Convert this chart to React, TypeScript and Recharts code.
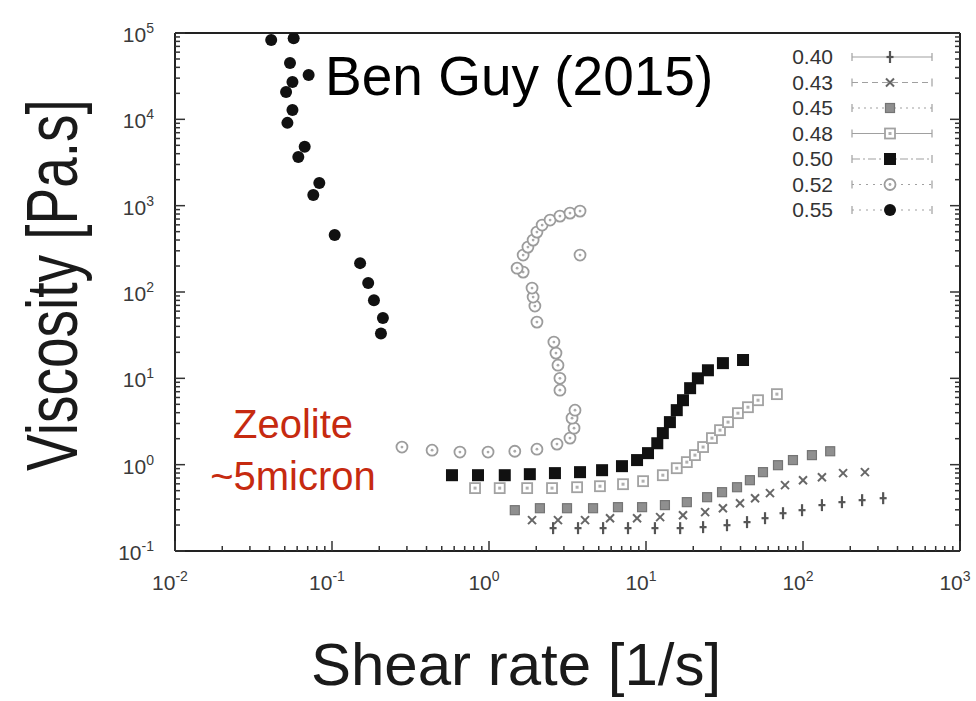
import {
  Customized,
  Legend,
  Scatter,
  ScatterChart,
  XAxis,
  YAxis,
} from 'recharts'

type Pt = { x: number; y: number }

// volume fractions, as in the legend
const fractions = ['0.40', '0.43', '0.45', '0.48', '0.50', '0.52', '0.55']

const phi040: Pt[] = [
  { x: 2.56, y: 0.184 }, { x: 3.69, y: 0.184 }, { x: 5.33, y: 0.184 }, { x: 7.68, y: 0.184 },
  { x: 11.4, y: 0.184 }, { x: 16.5, y: 0.184 }, { x: 23.1, y: 0.189 }, { x: 32.8, y: 0.199 },
  { x: 44.0, y: 0.216 }, { x: 57.3, y: 0.24 }, { x: 74.6, y: 0.274 }, { x: 98.6, y: 0.297 },
  { x: 132, y: 0.34 }, { x: 177, y: 0.368 }, { x: 238, y: 0.388 }, { x: 324, y: 0.409 },
]

const phi043: Pt[] = [
  { x: 1.88, y: 0.228 }, { x: 2.75, y: 0.228 }, { x: 4.09, y: 0.228 }, { x: 5.9, y: 0.24 },
  { x: 8.77, y: 0.24 }, { x: 12.3, y: 0.247 }, { x: 17.2, y: 0.26 }, { x: 23.8, y: 0.282 },
  { x: 30.9, y: 0.313 }, { x: 39.7, y: 0.358 }, { x: 49.5, y: 0.409 }, { x: 61.6, y: 0.468 },
  { x: 76.8, y: 0.579 }, { x: 100, y: 0.661 }, { x: 132, y: 0.716 }, { x: 180, y: 0.798 },
  { x: 248, y: 0.819 },
]

const phi045: Pt[] = [
  { x: 1.46, y: 0.297 }, { x: 2.11, y: 0.313 }, { x: 3.14, y: 0.313 }, { x: 4.6, y: 0.313 },
  { x: 6.63, y: 0.322 }, { x: 9.44, y: 0.322 }, { x: 13.2, y: 0.34 }, { x: 18.2, y: 0.368 },
  { x: 24.5, y: 0.42 }, { x: 30.5, y: 0.48 }, { x: 38.0, y: 0.548 }, { x: 45.9, y: 0.661 },
  { x: 55.6, y: 0.819 }, { x: 69.3, y: 0.986 }, { x: 86.3, y: 1.13 }, { x: 114, y: 1.29 },
  { x: 149, y: 1.43 },
]

const phi048: Pt[] = [
  { x: 0.815, y: 0.535 }, { x: 1.17, y: 0.535 }, { x: 1.75, y: 0.535 }, { x: 2.52, y: 0.535 },
  { x: 3.64, y: 0.548 }, { x: 5.09, y: 0.563 }, { x: 7.14, y: 0.594 }, { x: 9.58, y: 0.644 },
  { x: 12.8, y: 0.755 }, { x: 15.7, y: 0.91 }, { x: 18.2, y: 1.07 }, { x: 20.5, y: 1.29 },
  { x: 23.1, y: 1.6 }, { x: 26.3, y: 2.03 }, { x: 29.6, y: 2.51 }, { x: 33.3, y: 3.11 },
  { x: 38.5, y: 3.95 }, { x: 44.6, y: 4.63 }, { x: 51.7, y: 5.58 }, { x: 68.2, y: 6.56 },
]

const phi050: Pt[] = [
  { x: 0.581, y: 0.755 }, { x: 0.851, y: 0.755 }, { x: 1.26, y: 0.755 }, { x: 1.82, y: 0.776 },
  { x: 2.63, y: 0.798 }, { x: 3.8, y: 0.819 }, { x: 5.25, y: 0.863 }, { x: 7.03, y: 0.961 },
  { x: 8.77, y: 1.13 }, { x: 10.3, y: 1.36 }, { x: 11.8, y: 1.77 }, { x: 12.8, y: 2.32 },
  { x: 14.2, y: 3.11 }, { x: 15.7, y: 4.28 }, { x: 17.2, y: 5.58 }, { x: 19.1, y: 7.69 },
  { x: 21.4, y: 10.0 }, { x: 24.8, y: 12.4 }, { x: 30.9, y: 15.0 }, { x: 41.5, y: 16.3 },
]

const phi052: Pt[] = [
  { x: 0.279, y: 1.6 }, { x: 0.434, y: 1.47 }, { x: 0.653, y: 1.4 }, { x: 0.986, y: 1.4 },
  { x: 1.46, y: 1.43 }, { x: 2.02, y: 1.51 }, { x: 2.71, y: 1.73 }, { x: 3.28, y: 2.03 },
  { x: 3.48, y: 2.65 }, { x: 3.38, y: 3.46 }, { x: 3.53, y: 4.28 }, { x: 2.83, y: 7.29 },
  { x: 2.83, y: 10.0 }, { x: 2.75, y: 14.2 }, { x: 2.67, y: 19.6 }, { x: 2.59, y: 26.3 },
  { x: 2.02, y: 44.8 }, { x: 1.96, y: 68.7 }, { x: 1.91, y: 87.3 }, { x: 1.88, y: 111 },
  { x: 1.65, y: 170 }, { x: 1.51, y: 189 }, { x: 1.65, y: 268 }, { x: 1.77, y: 331 },
  { x: 1.91, y: 399 }, { x: 2.02, y: 494 }, { x: 2.18, y: 596 }, { x: 2.45, y: 681 },
  { x: 2.83, y: 757 }, { x: 3.28, y: 820 }, { x: 3.8, y: 865 }, { x: 3.8, y: 268 },
]

const phi055: Pt[] = [
  { x: 0.041, y: 83000 }, { x: 0.057, y: 87000 }, { x: 0.054, y: 45000 }, { x: 0.071, y: 32600 },
  { x: 0.056, y: 27000 }, { x: 0.051, y: 20700 }, { x: 0.056, y: 12800 }, { x: 0.052, y: 9100 },
  { x: 0.067, y: 4800 }, { x: 0.061, y: 3660 }, { x: 0.083, y: 1830 }, { x: 0.076, y: 1330 },
  { x: 0.104, y: 456 }, { x: 0.151, y: 216 }, { x: 0.17, y: 127 }, { x: 0.185, y: 80 },
  { x: 0.211, y: 50 }, { x: 0.205, y: 33 },
]

const xDecades = [-2, -1, 0, 1, 2, 3]
const yDecades = [-1, 0, 1, 2, 3, 4, 5]
const minorSteps = [2, 3, 4, 5, 6, 7, 8, 9]

const logTicks = (decades: number[]) => {
  const out: number[] = []
  decades.forEach((d, i) => {
    out.push(Math.pow(10, d))
    if (i < decades.length - 1) minorSteps.forEach((m) => out.push(m * Math.pow(10, d)))
  })
  return out
}
const xTicks = logTicks(xDecades)
const yTicks = logTicks(yDecades)

const FONT = '"Liberation Sans", Arial, Helvetica, sans-serif'
const AXIS = '#222'
const TICK_TEXT = '#3a3a3a'
const TICK_STROKE = '#333'

const isMajor = (v: number) => Math.abs(Math.log10(v) - Math.round(Math.log10(v))) < 1e-6
const expOf = (v: number) => String(Math.round(Math.log10(v)))
const tickLen = (v: number) => (isMajor(v) ? 10 : 5)

function Pow({ x, y, v, anchor }: { x: number; y: number; v: number; anchor: 'middle' | 'end' }) {
  return (
    <text x={x} y={y} textAnchor={anchor} fill={TICK_TEXT} fontFamily={FONT} fontSize={21}>
      <tspan>10</tspan>
      <tspan dy={-9} fontSize={14}>{expOf(v)}</tspan>
    </text>
  )
}

// ticks point into the plot on all four sides, gnuplot style
function BottomTick(props: any) {
  const { x, y, payload } = props
  return (
    <g>
      <path d={`M${x},${y}V${y - tickLen(payload.value)}`} stroke={TICK_STROKE} strokeWidth={1.5} fill="none" />
      {isMajor(payload.value) && <Pow x={x - 5} y={y + 39} v={payload.value} anchor="middle" />}
    </g>
  )
}

function TopTick(props: any) {
  const { x, y, payload } = props
  return <path d={`M${x},${y}V${y + tickLen(payload.value)}`} stroke={TICK_STROKE} strokeWidth={1.5} fill="none" />
}

function LeftTick(props: any) {
  const { x, y, payload } = props
  return (
    <g>
      <path d={`M${x},${y}H${x + tickLen(payload.value)}`} stroke={TICK_STROKE} strokeWidth={1.5} fill="none" />
      {isMajor(payload.value) && <Pow x={x - 21} y={y + 9} v={payload.value} anchor="end" />}
    </g>
  )
}

function RightTick(props: any) {
  const { x, y, payload } = props
  return <path d={`M${x},${y}H${x - tickLen(payload.value)}`} stroke={TICK_STROKE} strokeWidth={1.5} fill="none" />
}

type Kind = 'plus' | 'cross' | 'graySquare' | 'openSquare' | 'blackSquare' | 'openCircle' | 'blackCircle'

function Mark({ kind, cx, cy }: { kind: Kind; cx: number; cy: number }) {
  switch (kind) {
    case 'plus':
      return (
        <g stroke="#555" strokeWidth={2.2}>
          <line x1={cx} x2={cx} y1={cy - 6} y2={cy + 6} />
          <line x1={cx - 3.5} x2={cx + 3.5} y1={cy} y2={cy} />
        </g>
      )
    case 'cross':
      return (
        <g stroke="#666" strokeWidth={2}>
          <line x1={cx - 4} x2={cx + 4} y1={cy - 4} y2={cy + 4} />
          <line x1={cx - 4} x2={cx + 4} y1={cy + 4} y2={cy - 4} />
        </g>
      )
    case 'graySquare':
      return <rect x={cx - 4.5} y={cy - 4.5} width={9} height={9} fill="#8f8f8f" stroke="#747474" strokeWidth={1.2} />
    case 'openSquare':
      return (
        <g>
          <rect x={cx - 5} y={cy - 5} width={10} height={10} fill="#fff" stroke="#a2a2a2" strokeWidth={1.8} />
          <rect x={cx - 1.5} y={cy - 1.5} width={3} height={3} fill="#b0b0b0" />
        </g>
      )
    case 'blackSquare':
      return <rect x={cx - 6} y={cy - 6} width={12} height={12} fill="#111" />
    case 'openCircle':
      return (
        <g>
          <circle cx={cx} cy={cy} r={5.5} fill="#fff" stroke="#9c9c9c" strokeWidth={1.8} />
          <circle cx={cx} cy={cy} r={1.4} fill="#aaa" />
        </g>
      )
    default:
      return <circle cx={cx} cy={cy} r={6} fill="#111" />
  }
}

const kinds: Kind[] = ['plus', 'cross', 'graySquare', 'openSquare', 'blackSquare', 'openCircle', 'blackCircle']
const legendDash = ['', '6 4', '2 4', '', '8 3 2 3', '2 5', '2 5']

function LegendBox() {
  return (
    <svg width={190} height={185}>
      {fractions.map((f, i) => {
        const y = 15 + i * 25.5
        return (
          <g key={f}>
            <text x={53} y={y + 7} textAnchor="end" fontFamily={FONT} fontSize={21} fill="#333">
              {f}
            </text>
            <line x1={72} x2={152} y1={y} y2={y} stroke="#a0a0a0" strokeWidth={1.2} strokeDasharray={legendDash[i] || undefined} />
            <line x1={72} x2={72} y1={y - 4} y2={y + 4} stroke="#a0a0a0" strokeWidth={1.2} />
            <line x1={152} x2={152} y1={y - 4} y2={y + 4} stroke="#a0a0a0" strokeWidth={1.2} />
            <Mark kind={kinds[i]} cx={110} cy={y} />
          </g>
        )
      })}
    </svg>
  )
}

function Annotations() {
  return (
    <g fontFamily={FONT}>
      <text x={325} y={95} fontSize={55} fill="#000">Ben Guy (2015)</text>
      <text x={293} y={438} textAnchor="middle" fontSize={40} fill="#c62a10">Zeolite</text>
      <text x={293} y={490} textAnchor="middle" fontSize={40} fill="#c62a10">~5micron</text>
      <text x={516} y={685} textAnchor="middle" fontSize={60} fill="#1a1a1a">Shear rate [1/s]</text>
      <text transform="translate(77,285) rotate(-90) scale(1,1.3)" x={0} y={0} textAnchor="middle" fontSize={55} fill="#1a1a1a">
        Viscosity [Pa.s]
      </text>
    </g>
  )
}

const series: { data: Pt[]; kind: Kind; name: string }[] = [
  { data: phi052, kind: 'openCircle', name: '0.52' },
  { data: phi048, kind: 'openSquare', name: '0.48' },
  { data: phi045, kind: 'graySquare', name: '0.45' },
  { data: phi043, kind: 'cross', name: '0.43' },
  { data: phi040, kind: 'plus', name: '0.40' },
  { data: phi050, kind: 'blackSquare', name: '0.50' },
  { data: phi055, kind: 'blackCircle', name: '0.55' },
]

export default function App() {
  return (
    <div style={{ position: 'absolute', left: 0, top: 0, width: 976, height: 701, background: '#fff' }}>
      <ScatterChart width={976} height={701} margin={{ top: 32, right: 15, bottom: 110, left: 115 }}>
        <XAxis
          dataKey="x"
          type="number"
          scale="log"
          domain={[0.01, 1000]}
          allowDataOverflow
          ticks={xTicks}
          interval={0}
          tick={BottomTick}
          tickLine={false}
          tickSize={0}
          tickMargin={0}
          height={40}
          axisLine={{ stroke: AXIS, strokeWidth: 2 }}
        />
        <XAxis
          xAxisId="top"
          orientation="top"
          type="number"
          scale="log"
          domain={[0.01, 1000]}
          allowDataOverflow
          ticks={xTicks}
          interval={0}
          tick={TopTick}
          tickLine={false}
          tickSize={0}
          tickMargin={0}
          height={1}
          axisLine={{ stroke: AXIS, strokeWidth: 2 }}
        />
        <YAxis
          dataKey="y"
          type="number"
          scale="log"
          domain={[0.1, 100000]}
          allowDataOverflow
          ticks={yTicks}
          interval={0}
          tick={LeftTick}
          tickLine={false}
          tickSize={0}
          tickMargin={0}
          width={60}
          axisLine={{ stroke: AXIS, strokeWidth: 2 }}
        />
        <YAxis
          yAxisId="right"
          orientation="right"
          type="number"
          scale="log"
          domain={[0.1, 100000]}
          allowDataOverflow
          ticks={yTicks}
          interval={0}
          tick={RightTick}
          tickLine={false}
          tickSize={0}
          tickMargin={0}
          width={1}
          axisLine={{ stroke: AXIS, strokeWidth: 2 }}
        />
        {series.map((s) => (
          <Scatter
            key={s.name}
            name={s.name}
            data={s.data}
            isAnimationActive={false}
            shape={(p: any) => <Mark kind={s.kind} cx={p.cx} cy={p.cy} />}
          />
        ))}
        <Legend
          layout="vertical"
          align="center"
          verticalAlign="middle"
          content={() => <LegendBox />}
          wrapperStyle={{ left: 780, top: 42, width: 190, height: 185 }}
        />
        <Customized component={Annotations} />
      </ScatterChart>
    </div>
  )
}
